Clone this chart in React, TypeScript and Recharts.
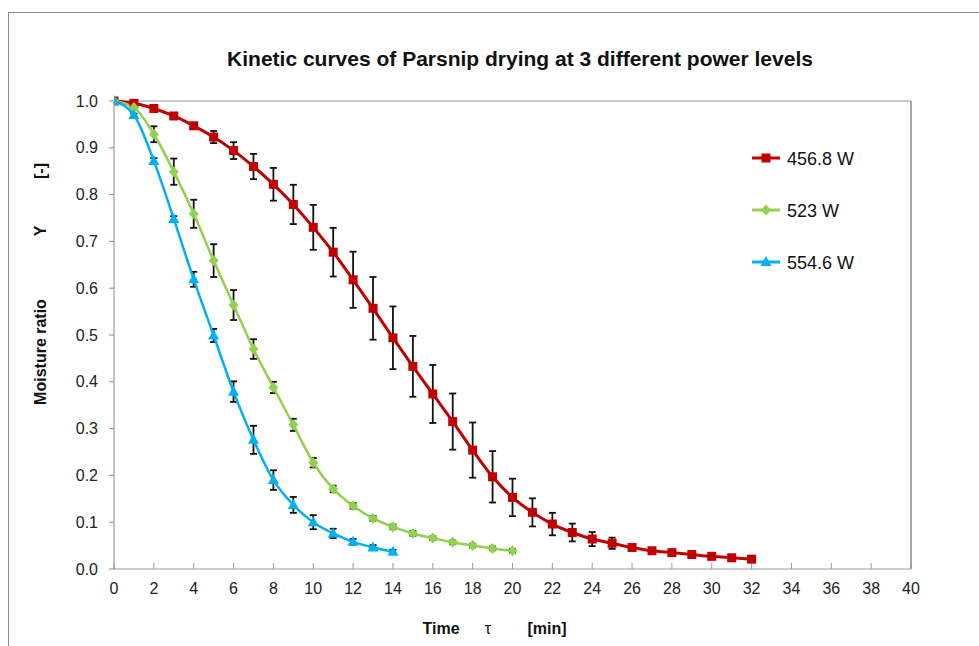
import { LineChart, Line, XAxis, YAxis, ErrorBar, Legend, ReferenceLine } from "recharts";

// time [min] for each power level
const redTime = [0, 1, 2, 3, 4, 5, 6, 7, 8, 9, 10, 11, 12, 13, 14, 15, 16, 17, 18, 19, 20, 21, 22, 23, 24, 25, 26, 27, 28, 29, 30, 31, 32];
const greenTime = [0, 1, 2, 3, 4, 5, 6, 7, 8, 9, 10, 11, 12, 13, 14, 15, 16, 17, 18, 19, 20];
const blueTime = [0, 1, 2, 3, 4, 5, 6, 7, 8, 9, 10, 11, 12, 13, 14];

// moisture ratio Y [-]
const red = [1.0, 0.995, 0.984, 0.968, 0.947, 0.923, 0.894, 0.86, 0.822, 0.779, 0.73, 0.677, 0.618, 0.557, 0.494, 0.433, 0.374, 0.315, 0.254, 0.197, 0.153, 0.121, 0.096, 0.078, 0.064, 0.055, 0.046, 0.039, 0.035, 0.031, 0.027, 0.024, 0.021];
const green = [1.0, 0.986, 0.929, 0.849, 0.759, 0.659, 0.564, 0.47, 0.388, 0.308, 0.227, 0.171, 0.135, 0.108, 0.09, 0.076, 0.066, 0.057, 0.05, 0.044, 0.039];
const blue = [1.0, 0.97, 0.872, 0.748, 0.619, 0.499, 0.379, 0.276, 0.19, 0.137, 0.1, 0.076, 0.058, 0.046, 0.037];

// standard deviations
const redErr = [0, 0, 0, 0, 0.004, 0.013, 0.018, 0.027, 0.035, 0.042, 0.048, 0.052, 0.06, 0.067, 0.067, 0.065, 0.062, 0.06, 0.059, 0.055, 0.04, 0.03, 0.024, 0.019, 0.015, 0.012, 0.005, 0.003, 0.002, 0.002, 0.002, 0.002, 0.002];
const greenErr = [0, 0.003, 0.017, 0.028, 0.03, 0.035, 0.032, 0.021, 0.012, 0.013, 0.01, 0.007, 0.006, 0.005, 0.005, 0.005, 0.004, 0.004, 0.004, 0.004, 0.004];
const blueErr = [0, 0.003, 0.006, 0.006, 0.016, 0.014, 0.022, 0.03, 0.021, 0.017, 0.015, 0.01, 0.006, 0.005, 0.004];

const xTicks = [0, 2, 4, 6, 8, 10, 12, 14, 16, 18, 20, 22, 24, 26, 28, 30, 32, 34, 36, 38, 40];
const yTicks = [0, 0.1, 0.2, 0.3, 0.4, 0.5, 0.6, 0.7, 0.8, 0.9, 1.0];

const seriesNames = ["456.8 W", "523 W", "554.6 W"];

const RED = "#C00000";
const GREEN = "#92D050";
const BLUE = "#00B0F0";
const FONT = "'Liberation Sans', Arial, sans-serif";

const redData = redTime.map((t, i) => ({ t, y: red[i], e: redErr[i] }));
const greenData = greenTime.map((t, i) => ({ t, y: green[i], e: greenErr[i] }));
const blueData = blueTime.map((t, i) => ({ t, y: blue[i], e: blueErr[i] }));

const square = (cx: number, cy: number, key?: any) => (
    <rect key={key} x={cx - 4.5} y={cy - 4.5} width={9} height={9} fill={RED} />
);
const diamond = (cx: number, cy: number, key?: any) => (
    <polygon key={key} points={`${cx},${cy - 5.5} ${cx + 5},${cy} ${cx},${cy + 5.5} ${cx - 5},${cy}`} fill={GREEN} />
);
const triangle = (cx: number, cy: number, key?: any) => (
    <polygon key={key} points={`${cx},${cy - 6} ${cx + 5.5},${cy + 4} ${cx - 5.5},${cy + 4}`} fill={BLUE} />
);

const markers = [square, diamond, triangle];
const colors = [RED, GREEN, BLUE];

const dotOf = (fn: any) => (p: any) => fn(p.cx, p.cy, p.index);

const LegendBox = () => (
    <svg width={170} height={130}>
        {seriesNames.map((name, i) => {
            const cy = 13 + i * 52;
            return (
                <g key={name}>
                    <line x1={7} x2={35} y1={cy} y2={cy} stroke={colors[i]} strokeWidth={3} />
                    {markers[i](21, cy)}
                    <text x={42} y={cy + 6.5} fontSize={18} fontFamily={FONT} fill="#111">{name}</text>
                </g>
            );
        })}
    </svg>
);

const YLabel = () => (
    <g fontFamily={FONT} fontWeight="bold" fontSize={16} fill="#111">
        <text transform="translate(46,352) rotate(-90)" textAnchor="middle">Moisture ratio</text>
        <text transform="translate(46,231) rotate(-90)" textAnchor="middle">Y</text>
        <text transform="translate(46,171) rotate(-90)" textAnchor="middle">[-]</text>
    </g>
);

const XLabel = () => (
    <g fontFamily={FONT} fontSize={16} fill="#111">
        <text x={441} y={634} textAnchor="middle" fontWeight="bold">Time</text>
        <text x={488} y={634} textAnchor="middle">τ</text>
        <text x={547} y={634} textAnchor="middle" fontWeight="bold">[min]</text>
    </g>
);

export default function App() {
    return (
        <div style={{ position: "absolute", left: 0, top: 0, width: 979, height: 646, background: "#fff" }}>
            <div
                style={{
                    position: "absolute",
                    left: 8,
                    top: 12,
                    width: 971,
                    height: 634,
                    borderTop: "1.5px solid #8a8a8a",
                    borderLeft: "1.5px solid #8a8a8a",
                    boxSizing: "border-box",
                }}
            />
            <div
                style={{
                    position: "absolute",
                    left: 170,
                    top: 47,
                    width: 700,
                    textAlign: "center",
                    fontFamily: FONT,
                    fontWeight: "bold",
                    fontSize: 21,
                    color: "#111",
                }}
            >
                Kinetic curves of Parsnip drying at 3 different power levels
            </div>
            <LineChart
                width={979}
                height={646}
                margin={{ top: 101, right: 68, left: 54, bottom: 47 }}
                style={{ position: "absolute", left: 0, top: 0 }}
            >
                <XAxis
                    dataKey="t"
                    type="number"
                    domain={[0, 40]}
                    ticks={xTicks}
                    allowDataOverflow
                    height={30}
                    stroke="#9a9a9a"
                    tickSize={-6}
                    tickMargin={20}
                    tick={{ fill: "#222", fontSize: 16, fontFamily: FONT }}
                    label={<XLabel />}
                />
                <YAxis
                    type="number"
                    domain={[0, 1]}
                    ticks={yTicks}
                    width={60}
                    stroke="#8a8a8a"
                    tickSize={5}
                    tickMargin={11}
                    tickFormatter={(v: number) => v.toFixed(1)}
                    tick={{ fill: "#222", fontSize: 16, fontFamily: FONT }}
                    label={<YLabel />}
                />
                <ReferenceLine y={1} stroke="#b8b8b8" strokeWidth={1.5} />
                <ReferenceLine x={40} stroke="#8a8a8a" strokeWidth={1.5} />
                <Line
                    data={redData}
                    dataKey="y"
                    name={seriesNames[0]}
                    type="monotone"
                    stroke={RED}
                    strokeWidth={3}
                    dot={dotOf(square)}
                    activeDot={false}
                    isAnimationActive={false}
                >
                    <ErrorBar dataKey="e" width={3.5} strokeWidth={1.8} stroke="#111" direction="y" />
                </Line>
                <Line
                    data={greenData}
                    dataKey="y"
                    name={seriesNames[1]}
                    type="monotone"
                    stroke={GREEN}
                    strokeWidth={2.5}
                    dot={dotOf(diamond)}
                    activeDot={false}
                    isAnimationActive={false}
                >
                    <ErrorBar dataKey="e" width={3.5} strokeWidth={1.8} stroke="#111" direction="y" />
                </Line>
                <Line
                    data={blueData}
                    dataKey="y"
                    name={seriesNames[2]}
                    type="monotone"
                    stroke={BLUE}
                    strokeWidth={2.5}
                    dot={dotOf(triangle)}
                    activeDot={false}
                    isAnimationActive={false}
                >
                    <ErrorBar dataKey="e" width={3.5} strokeWidth={1.8} stroke="#111" direction="y" />
                </Line>
                <Legend
                    layout="horizontal"
                    verticalAlign="middle"
                    align="center"
                    wrapperStyle={{ left: 745, top: 145, width: 170, height: 130 }}
                    content={<LegendBox />}
                />
            </LineChart>
        </div>
    );
}
